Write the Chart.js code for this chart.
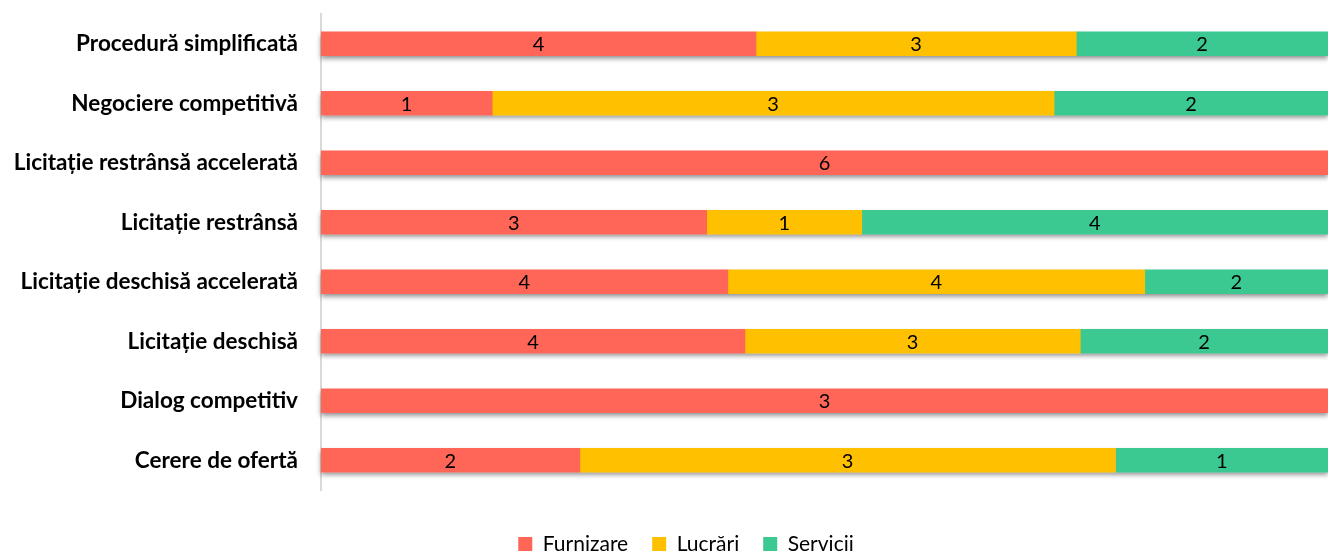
<!DOCTYPE html>
<html>
<head>
<meta charset="utf-8">
<script src="https://cdn.jsdelivr.net/npm/chart.js@4/dist/chart.umd.min.js"></script>
<style>
    html, body { margin: 0; padding: 0; background: #fff; }
</style>
</head>
<body>
<canvas id="graphique" width="1328" height="551"></canvas>
<script>
// procédures (de haut en bas)
const proceduri = [
    'Procedură simplificată',
    'Negociere competitivă',
    'Licitație restrânsă accelerată',
    'Licitație restrânsă',
    'Licitație deschisă accelerată',
    'Licitație deschisă',
    'Dialog competitiv',
    'Cerere de ofertă'
];
const serii = ['Furnizare', 'Lucrări', 'Servicii'];

// part de la barre (%)
const partFurnizare = [43.2, 17.0, 100, 38.3, 40.4, 42.1, 100, 25.7];
const partLucrari   = [31.8, 55.8, 0, 15.4, 41.4, 33.3, 0, 53.2];
const partServicii  = [25.0, 27.2, 0, 46.3, 18.2, 24.6, 0, 21.1];

// nombres écrits sur les barres
const nbFurnizare = [4, 1, 6, 3, 4, 4, 3, 2];
const nbLucrari   = [3, 3, 0, 1, 4, 3, 0, 3];
const nbServicii  = [2, 2, 0, 4, 2, 2, 0, 1];

Chart.defaults.font.family = 'Lato';

// ombre sous chaque barre complète
const ombre = {
    id: 'ombre',
    beforeDatasetsDraw(chart) {
        const ctx = chart.ctx;
        ctx.save();
        ctx.shadowColor = 'rgba(0,0,0,0.45)';
        ctx.shadowBlur = 5;
        ctx.shadowOffsetY = 3;
        ctx.fillStyle = '#fff';
        chart.getDatasetMeta(0).data.forEach((barre, j) => {
            let fin = barre.x;
            chart.data.datasets.forEach((ds, i) => {
                fin = Math.max(fin, chart.getDatasetMeta(i).data[j].x);
            });
            ctx.fillRect(barre.base, barre.y - barre.height / 2, fin - barre.base, barre.height);
        });
        ctx.restore();
    }
};

// nombres au centre des segments
const etiquettes = {
    id: 'etiquettes',
    afterDatasetsDraw(chart) {
        const ctx = chart.ctx;
        ctx.save();
        ctx.font = '20px Lato';
        ctx.fillStyle = '#000';
        ctx.textAlign = 'center';
        ctx.textBaseline = 'middle';
        chart.data.datasets.forEach((ds, i) => {
            chart.getDatasetMeta(i).data.forEach((barre, j) => {
                if (!ds.nombres[j]) return;
                const p = barre.getCenterPoint();
                ctx.fillText(ds.nombres[j], p.x, p.y + 1);
            });
        });
        ctx.restore();
    }
};

// hauteur fixe de la légende, et légende un peu décalée à droite
const placeLegende = {
    id: 'placeLegende',
    beforeInit(chart) {
        const fitOrig = chart.legend.fit;
        chart.legend.fit = function () {
            fitOrig.bind(chart.legend)();
            this.height = 61;
        };
    },
    afterLayout(chart) {
        chart.legend.left += 22;
        chart.legend.right += 22;
    }
};

const donnees = {
    labels: proceduri,
    datasets: [{
        label: serii[0],
        data: partFurnizare,
        nombres: nbFurnizare,
        backgroundColor: '#ff6658'
    }, {
        label: serii[1],
        data: partLucrari,
        nombres: nbLucrari,
        backgroundColor: '#ffc000'
    }, {
        label: serii[2],
        data: partServicii,
        nombres: nbServicii,
        backgroundColor: '#3cc891'
    }]
};

const config = {
    type: 'bar',
    data: donnees,
    options: {
        indexAxis: 'y',
        responsive: false,
        animation: false,
        datasets: { bar: { barThickness: 24 } },
        layout: { padding: { top: 14, right: 0, bottom: 0, left: 0 } },
        scales: {
            x: { stacked: true, min: 0, max: 100, display: false },
            y: {
                stacked: true,
                grid: { display: false, drawTicks: false },
                border: { display: true, color: '#d9d9d9', width: 2 },
                ticks: {
                    color: '#000',
                    padding: 23,
                    font: { family: 'Lato', size: 22.5, weight: 'bold' }
                },
                afterFit: s => {
                    s.width = 321;
                    s.paddingTop = 0;
                    s.paddingBottom = 0;
                }
            }
        },
        plugins: {
            tooltip: { enabled: false },
            legend: {
                position: 'bottom',
                title: { display: true, text: ' ', padding: 0, font: { size: 13, lineHeight: 1.5 } },
                labels: {
                    boxWidth: 14,
                    boxHeight: 14,
                    padding: 24,
                    color: '#000',
                    font: { family: 'Lato', size: 21 }
                }
            }
        }
    },
    plugins: [ombre, etiquettes, placeLegende]
};

const ctx = document.getElementById('graphique').getContext('2d');
const monGraphique = new Chart(ctx, config);
</script>
</body>
</html>
